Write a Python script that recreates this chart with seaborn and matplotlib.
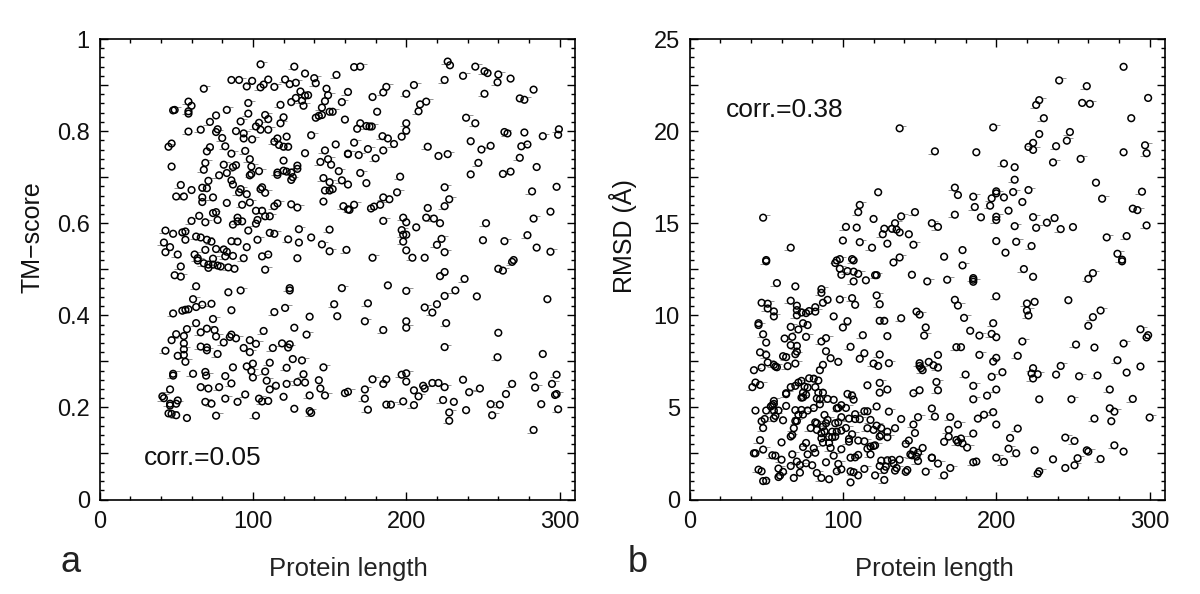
import matplotlib
matplotlib.use("Agg")
import matplotlib.pyplot as plt
import numpy as np
import seaborn as sns
from matplotlib.path import Path
from matplotlib.ticker import MultipleLocator

# panel a: protein length / TM-score
length_a = [
    105,127,134,140,154.5,86,91,99.5,110,107,
    105,96,114,121,124,128,141,148,68,162,
    131,149,136,134,128,132,147,158,58,60,
    97,118,125,133,145,48,49,58,58,83,
    97,76,108,110,150,152,145,143,141,120,
    160,92,72,104,118,102,105,110,66,77,
    76,58,89,94,80,94,99.5,116,122,138,
    114,117,120,123,47,45,82,72,70,95,
    154,86,147,134,162,98,120,149,144,151,
    69,68,47,81,89,87,99,129,129,156,
    120,122,125,116,116,104,99,98,83,78,
    126,125,146,86,71,158,162,150,53,87,
    67,70,60,92,106,105,108,152,150,147,
    91,96,50,55,67,67,74,83,98,93,
    146,116,114,125,129,159,162,102,106,76,
    74,65,90,103,102,108,111,60,77,69,
    90,93,87,43,48,54,56,97,130,150,
    111,114,63,66,70,73,56,103,123,138,
    86,90,130,145,42,46,43,51,96,150,
    161,69,76,81,83,62,64,110,106,82,
    87,74,94,129,
    # lower left
    64,68,71,71,74,77,79,84,88,108,
    53,49,53,63,84,92,124,124,158,153,
    155,61,73,67,63,58,56,54,48,86,
    121,114,137,74,63,57,70,66,75,76,
    107,127,135,50,55,47,86,85,89,81,
    98,102,119,124,123,113,55,55,55,51,
    56,66,70,70,43,94,98,77,126,132,
    111,100,146,122,96,99,108,87,48,48,
    69,69.5,61,82,100,133,143,109,129,134,
    122,86,115,111,78,71,66,46,144,147,
    137,120,82,95,90,104,106,110,69,73,
    51,50,46,46,41,42,127,137,138,45,
    47,50,57,76,102,
    # upper right
    166,170,227,228.5,245,251,253,260,259.5,268,
    237,225,283,187,185,178,205,200,274,277,
    251,209,213,208,181,239,245,170,168,174,
    176,177.5,200,200,197,184.5,188,264,266,277,
    289,299.5,299,166,192,185,175,214,242,249,
    255,279,275,274,162,169,180,221,227,247,
    285,170,196,242,263,268,174,225,282,298,
    194,185,189,228,225,214,183,179,177,166,
    163,294,283,198,200,213,218,222,185,252,
    206.5,197,198,200,223,220,250,264,279,285,
    294,198,200,225,204,212,178,270,
    # lower right
    260,263,269,225,222,238,188,200,232,246,
    225,175,220,212,217,292,173,185,200,200,
    226,260,225,259.5,289,200,197,200,178,187,
    185,173,173,160,162,175,187,190,198,205,
    208,205,211,212,217,221,225,224,231,228,
    228,237,241,248,239,255,261,265,256,269,
    283,284,283,288,295,298,297,298,299,
]
tm_score = [
    .945,.94,.925,.915,.922,.911,.911,.909,.912,.901,
    .895,.897,.896,.912,.902,.905,.904,.892,.892,.885,
    .886,.878,.878,.877,.872,.866,.865,.863,.864,.855,
    .861,.857,.863,.855,.851,.845,.846,.843,.838,.846,
    .838,.834,.835,.826,.842,.842,.835,.833,.829,.83,
    .825,.821,.82,.818,.817,.81,.803,.803,.803,.804,
    .798,.799,.8,.795,.785,.784,.782,.784,.788,.791,
    .777,.77,.766,.766,.773,.766,.767,.765,.756,.757,
    .771,.751,.758,.752,.751,.739,.736,.739,.733,.727,
    .731,.716,.723,.727,.726,.722,.723,.725,.718,.713,
    .714,.712,.71,.71,.705,.713,.707,.704,.709,.704,
    .7,.694,.698,.693,.692,.693,.684,.689,.683,.684,
    .677,.676,.672,.674,.678,.674,.666,.674,.671,.671,
    .667,.663,.658,.658,.656,.646,.656,.644,.645,.64,
    .647,.643,.637,.641,.634,.637,.63,.627,.627,.624,
    .622,.616,.612,.607,.599,.615,.615,.605,.607,.602,
    .604,.604,.597,.584,.577,.58,.582,.584,.587,.586,
    .579,.577,.571,.569,.564,.56,.564,.564,.565,.569,
    .561,.56,.558,.554,.558,.548,.537,.532,.548,.539,
    .542,.542,.544,.543,.538,.532,.524,.532,.528,.528,
    .529,.523,.524,.524,
    # lower left
    .519,.513,.51,.503,.51,.508,.506,.504,.501,.499,
    .506,.487,.484,.463,.45,.454,.459,.454,.459,.424,
    .398,.435,.425,.423,.418,.413,.412,.41,.404,.411,
    .416,.407,.397,.392,.383,.37,.371,.363,.368,.354,
    .366,.373,.358,.359,.355,.346,.358,.353,.35,.341,
    .346,.338,.339,.337,.33,.329,.339,.326,.314,.312,
    .299,.332,.33,.324,.323,.329,.32,.316,.305,.302,
    .297,.295,.287,.286,.289,.279,.278,.287,.273,.269,
    .277,.269,.273,.268,.265,.272,.259,.258,.255,.254,
    .251,.252,.247,.239,.244,.241,.244,.239,.241,.226,
    .226,.223,.219,.228,.212,.219,.213,.214,.212,.208,
    .215,.208,.208,.204,.224,.22,.197,.192,.188,.187,
    .186,.183,.177,.182,.182,
    # upper right
    .939,.94,.951,.943,.94,.93,.926,.923,.906,.914,
    .92,.911,.89,.896,.884,.874,.9,.881,.871,.868,
    .881,.858,.864,.843,.842,.829,.817,.817,.805,.811,
    .81,.81,.817,.801,.788,.789,.784,.798,.795,.797,
    .789,.804,.792,.775,.772,.758,.761,.766,.778,.76,
    .768,.771,.767,.742,.75,.748,.741,.746,.75,.731,
    .722,.709,.701,.706,.707,.712,.687,.678,.669,.679,
    .667,.656,.652,.652,.637,.633,.64,.636,.632,.64,
    .629,.625,.61,.612,.602,.612,.61,.6,.605,.6,
    .591,.585,.575,.575,.566,.553,.563,.561,.574,.547,
    .538,.56,.541,.537,.525,.525,.525,.52,
    # lower right
    .501,.497,.516,.494,.485,.479,.465,.453,.454,.441,
    .442,.426,.424,.417,.406,.435,.387,.368,.387,.373,
    .383,.362,.331,.309,.316,.274,.271,.256,.261,.261,
    .251,.239,.219,.231,.234,.195,.206,.206,.213,.237,
    .224,.205,.247,.241,.253,.253,.244,.216,.212,.189,
    .171,.26,.233,.241,.194,.207,.206,.229,.183,.251,
    .269,.243,.151,.207,.251,.271,.227,.229,.196,
]

# panel b: protein length / RMSD
length_b = [
    137,160,123,111,110,120,48,102,109,127,
    126,132,134,135,137,138,147,143,158,162,
    100,111,119,129,146,66,50,98,96,106,
    137,
    50,95,98,107,133,99,103,107,110,107,
    115,121,122,145,155,57,69,86,86,47,
    51,51,55,55,66,70,70,70,73,76,
    78,82,82,87,90,98,106,108,122,124,
    148,150,138,94,124,127,45,45,74,77,
    66,71,103,100,48,154,153,113,129,76,
    67,62,89,86,50,66,70,70,69,105,
    89,46,50,114,111,124,92,61,63,97,
    51,55,57,56,120,123,130,87,85,69,
    64,47,42,150,150,151,152,156,159,162,
    162,161,162,43,46,41,116,124,129,124,
    71,73,69,78,81,84,75,77,82,66,
    150,146,63,63,74,73,76,74,84,87,
    83,85,90,94,103,106,107,55,55,54,
    53,63,43,50,55,58,56,55,69,73,
    71,74,77,81,85,96,97,99,102,122,
    158,130,114,116,108,104,108,111,99,88,
    90,89,95,97,118,138,149,160,47,49,
    48,61,69,70,82,83,79,83,87,88,
    86,93,96,99,102,68,67,66,116,120,
    122,125,134,129,125,124,129,146,147,106,
    93,95,86,91,87,91,46,60,104,104,
    110,114,143,141,121,120,118,116,76,74,
    81,92,99,48,152,42,43,82,77,67,
    54,56,94,110,108,105,118,146,144,145,
    149,148,149,158,162,60,89,125,129,132,
    137,133,124,128,127,134,135,70,66,72,
    76,80,97,99,96,114,142,141,154,45,
    47,58,61,58,59,72,68,83,86,91,
    105,107,110,121,127,105,48,50,
    # right side
    283,241,259,299,228,226,256,261,231,288,
    198,248,228,246,224,221,224,239,187,297,
    298,283,255,205,212,237,212,265,221,173,
    175,185,186,200,200,197,205,211,196,217,
    269,295,289,292,173,190,200,200,208,224,
    238,233,226,242,250,212,298,200,213,223,
    206,272,285,178,279,282,166,
    178,218,224,263,260,282,168,185,185,185,
    200,173,175,220,225,220,221,247,268,263,
    260,179,198,183,189,197,200,294,299,298,
    217,252,264,283,174,177,189,214,200,198,
    279,294,242,224,223,227,224,204,197,180,
    239,254,266,285,185,200,194,185,274,228,
    249,289,274,277,264,275,300,170,188,192,
    198,200,175,169,169,166,185,174,177,175,
    178,181,214,209,208,213,225,245,251,259,
    260,277,283,200,205,237,253,268,245,251,
    185,187,170,166,158,228,227,
]
rmsd = [
    20.15,18.9,16.68,15.99,15.6,15.23,15.3,14.8,14.76,14.7,
    14.4,14.7,15,14.65,14.5,15.37,15.6,14.4,15,14.8,
    14.06,13.97,13.67,13.89,13.83,13.67,13,13.05,12.98,13.05,
    13.14,
    12.93,12.84,12.53,12.98,12.87,12.2,12.4,12.37,12.25,11.84,
    11.9,12.18,12.18,12.2,11.84,11.75,11.57,11.42,11.22,10.68,
    10.63,10.37,10.21,9.94,10.79,10.52,10.28,10,10.15,10.12,
    10.23,10.44,10.2,10.68,10.84,10.86,10.93,10.57,11.08,10.6,
    10.2,10.04,9.84,9.94,9.7,9.7,9.57,9.47,9.57,9.47,
    9.37,9.23,9.68,9.34,8.97,9.34,8.9,8.92,8.87,8.83,
    8.83,8.74,8.76,8.58,8.52,8.38,8.34,8.03,7.89,8.29,
    8.05,7.99,7.85,7.94,7.64,7.87,7.67,7.78,7.73,7.47,
    7.44,7.31,7.18,7.22,7.38,7.25,7.4,7.31,7.02,7.38,
    7.24,7.16,7.02,7.4,7.25,7.13,7.02,7.47,7.29,7.16,
    7.85,6.38,5.93,6.35,6.22,6.1,6.2,6.33,5.97,5.8,
    6.35,6.44,6.17,6.58,6.56,6.46,6.13,6.08,6.1,6.1,
    5.93,5.77,5.77,5.72,5.8,5.53,5.68,5.55,5.8,5.8,
    5.48,5.44,5.46,5.41,5.73,5.64,5.42,5.35,5.19,5.12,
    5.05,5.08,4.83,4.83,4.83,4.83,4.54,4.41,4.85,4.86,
    4.6,4.61,4.83,4.97,5.17,4.95,4.97,5.12,4.97,5.05,
    4.94,4.77,4.79,4.79,4.63,4.39,4.37,4.36,4.47,4.59,
    4.32,4.14,4.14,4.19,4.32,4.37,4.47,4.5,4.25,4.37,
    3.88,4.3,4.26,4.26,4.19,4.14,3.88,3.78,3.96,3.7,
    3.6,3.68,3.68,3.74,3.88,3.87,3.5,3.42,3.87,3.78,
    4.01,3.88,3.87,3.68,3.5,3.42,3.38,4.07,3.61,3.54,
    3.38,3.42,3.32,3.4,3.09,3.07,3.22,3.1,3.29,3.14,
    3.2,3.16,3.2,3.02,2.94,2.91,2.87,2.76,3.07,2.85,
    2.78,2.8,2.73,2.71,2.8,2.51,2.51,2.54,2.45,2.45,
    2.4,2.38,2.38,2.42,2.29,2.27,2.45,2.64,2.45,2.4,
    2.54,2.33,2.09,2.27,1.95,2.16,2.02,2.11,2.13,2.15,
    2.16,1.96,1.82,1.78,1.6,1.57,1.71,2.06,1.82,1.87,
    1.97,1.86,1.93,1.64,1.53,1.66,1.6,1.5,1.51,1.62,
    1.53,1.68,1.5,1.22,1.3,1.46,1.17,1.44,1.17,1.1,
    1.53,1.48,1.31,1.31,1.06,.93,1,1.02,
    # right side
    23.49,22.75,22.44,21.8,21.68,21.42,21.53,21.48,20.7,20.7,
    20.2,19.95,19.84,19.48,19.36,19.14,18.98,19.18,18.85,19.23,
    18.8,18.85,18.49,18.24,18.04,18.3,17.36,17.2,16.8,16.93,
    16.53,16.44,15.88,16.73,16.62,16.35,16.4,16.69,15.95,16.15,
    16.33,16.71,15.79,15.71,15.46,15.32,15.35,15.17,15.68,15.33,
    15.28,15.03,14.75,14.68,14.79,14.84,14.88,14.03,13.99,13.76,
    13.4,14.23,14.3,13.54,13.34,13.02,13.18,
    12.71,12.51,12.09,12.29,11.98,12.93,11.93,12.02,11.93,11.82,
    11.03,10.84,10.53,10.64,10.73,10.26,9.99,10.82,10.26,9.9,
    9.43,9.86,9.57,9.16,8.9,8.99,8.81,9.24,8.92,8.8,
    8.58,8.41,8.25,8.47,8.27,8.27,7.85,7.8,7.69,7.49,
    7.56,7.22,7.25,7.13,6.84,6.8,6.57,6.91,6.66,6.78,
    6.78,6.69,6.73,6.89,6.17,5.97,5.64,5.44,5.97,5.44,
    5.44,5.46,4.95,4.77,4.39,4.25,4.45,4.48,4.39,4.6,
    4.74,4.07,4.07,3.78,3.41,3.13,3.58,3.23,3.31,3.11,
    3.05,2.82,3.85,3.34,2.76,2.51,2.67,3.36,3.18,2.67,
    2.6,2.94,2.6,2.27,2.04,2.18,2.24,2.2,1.71,1.86,
    2.02,2.06,1.71,1.31,2.26,1.53,1.4,
]

x_tick_labels = ["0", "100", "200", "300"]
ya_labels = ["0", "0.2", "0.4", "0.6", "0.8", "1"]
yb_labels = ["0", "5", "10", "15", "20", "25"]

assert len(length_a) == len(tm_score), (len(length_a), len(tm_score))
assert len(length_b) == len(rmsd), (len(length_b), len(rmsd))

sns.set_theme(style="ticks")
plt.rcParams["font.family"] = ["Liberation Sans", "DejaVu Sans"]

W, H = 1200, 594
fig = plt.figure(figsize=(W / 100, H / 100), dpi=100)
ax_a = fig.add_axes([99.5 / W, (H - 499.5) / H, 475.5 / W, 460.5 / H])
ax_b = fig.add_axes([689.5 / W, (H - 499.5) / H, 475.5 / W, 460.5 / H])

# the scan leaves a faint dash beside many of the circles
dash_right = Path([(.8, .75), (2, .75)], [Path.MOVETO, Path.LINETO])
dash_left = Path([(-2, -.8), (-.6, -.8)], [Path.MOVETO, Path.LINETO])


def draw_panel(ax, xs, ys, ymax, ystep, yminor, ylabels, ylabel):
    # dashes first so the circles sit on top
    for marker, xpart, ypart in [(dash_right, xs[::3], ys[::3]), (dash_left, xs[1::3], ys[1::3])]:
        sns.scatterplot(x=xpart, y=ypart, ax=ax, marker=marker, s=90, linewidth=.55, legend=False)
        ax.collections[-1].set_facecolor("none")
        ax.collections[-1].set_edgecolor("#777777")

    sns.scatterplot(x=xs, y=ys, ax=ax, marker="o", s=23, linewidth=1.1, legend=False)
    dots = ax.collections[-1]
    dots.set_facecolor("none")
    dots.set_edgecolor("black")

    ax.set_xlim(0, 310)
    ax.set_ylim(0, ymax)
    ax.set_xticks([0, 100, 200, 300], x_tick_labels)
    ax.xaxis.set_minor_locator(MultipleLocator(20))
    ax.yaxis.set_minor_locator(MultipleLocator(yminor))
    ax.set_yticks(np.linspace(0, ymax, 11))
    ax.set_yticklabels([ylabels[i // 2] if i % 2 == 0 else "" for i in range(11)])

    ax.tick_params(which="major", direction="in", top=True, right=True, length=6,
                   width=1.0, labelsize=17, color="black", labelcolor="#111111")
    ax.tick_params(axis="x", which="major", pad=8.5)
    ax.tick_params(axis="y", which="major", pad=7)
    ax.tick_params(which="minor", direction="in", top=True, right=True, length=2.8,
                   width=1.0, color="black")
    for spine in ax.spines.values():
        spine.set_visible(True)
        spine.set_linewidth(1.2)
        spine.set_color("black")

    ax.set_xlabel("Protein length", fontsize=18.5, color="#222222")


draw_panel(ax_a, length_a, tm_score, 1, .1, .02, ya_labels, "TM−score")
draw_panel(ax_b, length_b, rmsd, 25, 2.5, .5, yb_labels, "RMSD (Å)")
ax_a.xaxis.set_label_coords(.5236, -.125)
ax_b.xaxis.set_label_coords(.514, -.125)

# y titles share the same lower end in the original
fig.text(33 / W, (H - 293) / H, "TM−score", fontsize=18, color="#111111", rotation=90,
         ha="center", va="bottom")
fig.text(623 / W, (H - 293) / H, "RMSD (Å)", fontsize=18, color="#111111", rotation=90,
         ha="center", va="bottom")

ax_a.text(29, .09, "corr.=0.05", fontsize=19, color="#111111", ha="left", va="center")
ax_b.text(24, 21.15, "corr.=0.38", fontsize=19, color="#111111", ha="left", va="center")

fig.text(60 / W, (H - 563) / H, "a", fontsize=26, color="#222222", ha="left", va="center")
fig.text(628 / W, (H - 563) / H, "b", fontsize=26, color="#222222", ha="left", va="center")

fig.savefig("out.png", dpi=100)
